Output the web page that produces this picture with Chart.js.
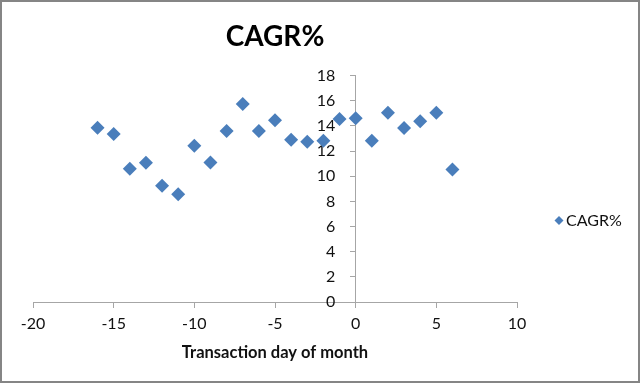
<!DOCTYPE html>
<html>
<head>
<meta charset="utf-8">
<script src="https://cdn.jsdelivr.net/npm/chart.js@4.4.1/dist/chart.umd.min.js"></script>
<style>
  html, body { margin: 0; padding: 0; background: #fff; }
  #wrap { width: 640px; height: 383px; position: relative; }
</style>
</head>
<body>
<div id="wrap"><canvas id="c" width="640" height="383"></canvas></div>
<script>
const days = [-16, -15, -14, -13, -12, -11, -10, -9, -8, -7, -6, -5, -4, -3, -2, -1, 0, 1, 2, 3, 4, 5, 6];
const cagr = [13.85, 13.35, 10.6, 11.07, 9.24, 8.57, 12.42, 11.1, 13.59, 15.74, 13.59, 14.46, 12.9, 12.74, 12.82, 14.54, 14.6, 12.82, 15.05, 13.83, 14.38, 15.05, 10.53];
const seriesName = 'CAGR%';
const chartTitle = 'CAGR%';
const xAxisTitle = 'Transaction day of month';
const xMin = -20, xMax = 10, xStep = 5;
const yMin = 0, yMax = 18, yStep = 2;

const points = days.map((d, i) => ({ x: d, y: cagr[i] }));
const FONT = "Lato, 'Open Sans', 'DejaVu Sans', sans-serif";
const BLUE = '#4a7ebb';
const AXIS = '#a6a6a6';

const framePlugin = {
  id: 'frame',
  beforeDraw(chart) {
    const ctx = chart.ctx;
    ctx.save();
    ctx.fillStyle = '#fff';
    ctx.fillRect(0, 0, chart.width, chart.height);
    ctx.restore();
  },
  afterDraw(chart) {
    const ctx = chart.ctx;
    const a = chart.chartArea;
    // legend
    const lx = a.right + 42, ly = a.top + 145;
    ctx.save();
    ctx.fillStyle = BLUE;
    ctx.beginPath();
    ctx.moveTo(lx, ly - 4.5);
    ctx.lineTo(lx + 4.5, ly);
    ctx.lineTo(lx, ly + 4.5);
    ctx.lineTo(lx - 4.5, ly);
    ctx.closePath();
    ctx.fill();
    ctx.fillStyle = '#111';
    ctx.font = '16px ' + FONT;
    ctx.textBaseline = 'middle';
    ctx.textAlign = 'left';
    ctx.fillText(seriesName, lx + 7, ly);
    // outer frame
    ctx.strokeStyle = '#858585';
    ctx.lineWidth = 2;
    ctx.strokeRect(1, 1, chart.width - 2, chart.height - 2);
    ctx.restore();
  }
};

new Chart(document.getElementById('c'), {
  type: 'scatter',
  data: {
    datasets: [{
      label: seriesName,
      data: points,
      pointStyle: 'rectRot',
      pointRadius: 7,
      pointHoverRadius: 7,
      backgroundColor: BLUE,
      borderColor: BLUE,
      borderWidth: 0
    }]
  },
  plugins: [framePlugin],
  options: {
    responsive: false,
    animation: false,
    devicePixelRatio: 1,
    layout: { padding: { left: 33, right: 123, top: 4, bottom: 20 } },
    plugins: {
      legend: { display: false },
      tooltip: { enabled: false },
      title: {
        display: true,
        text: chartTitle,
        color: '#000',
        font: { family: FONT, size: 28, weight: 'bold' },
        padding: { top: 16, bottom: 22 }
      }
    },
    scales: {
      x: {
        type: 'linear',
        position: 'bottom',
        min: xMin, max: xMax,
        ticks: { stepSize: xStep, color: '#111', font: { family: FONT, size: 16 }, padding: 6, maxRotation: 0 },
        grid: { display: true, drawOnChartArea: false, drawTicks: true, tickLength: 6, color: AXIS },
        border: { display: true, color: AXIS, width: 1 },
        title: { display: true, text: xAxisTitle, color: '#111', font: { family: FONT, size: 16.5, weight: 'bold' }, padding: { top: 4, bottom: 0 } }
      },
      y: {
        type: 'linear',
        position: { x: 0 },
        min: yMin, max: yMax,
        ticks: {
          stepSize: yStep, color: '#111', font: { family: FONT, size: 16 }, padding: 8,
          callback: (v) => String(v) + '     '
        },
        grid: { display: true, drawOnChartArea: false, drawTicks: true, tickLength: 5, color: AXIS },
        border: { display: true, color: AXIS, width: 1 }
      }
    }
  }
});
</script>
</body>
</html>
